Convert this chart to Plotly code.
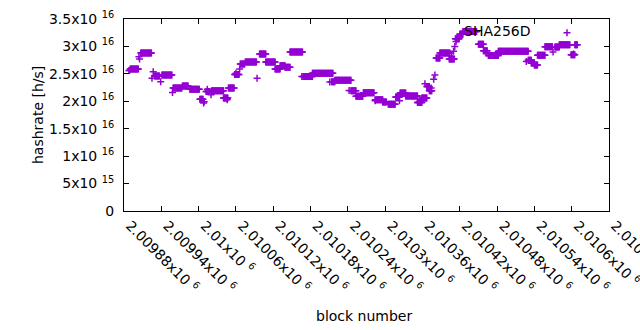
import plotly.graph_objects as go

PURPLE = "#9400D3"
FONT = "DejaVu Sans"

# Runs of consecutive blocks sharing the same estimated hashrate (x 1e16 h/s)
seg_first_block = [
    2009888, 2009890, 2009904, 2009905, 2009907, 2009925, 2009927, 2009929, 2009939, 2009941,
    2009958, 2009959, 2009974, 2009986, 2010002, 2010008, 2010009, 2010012, 2010014, 2010020,
    2010021, 2010040, 2010046, 2010048, 2010058, 2010060, 2010066, 2010067, 2010075, 2010094,
    2010098, 2010108, 2010123, 2010131, 2010139, 2010147, 2010166, 2010168, 2010183, 2010211,
    2010214, 2010219, 2010242, 2010245, 2010253, 2010265, 2010284, 2010284, 2010296, 2010305,
    2010317, 2010318, 2010323, 2010324, 2010333, 2010352, 2010355, 2010359, 2010364, 2010367,
    2010371, 2010374, 2010378, 2010380, 2010382, 2010388, 2010403, 2010407, 2010410, 2010412,
    2010414, 2010413, 2010420, 2010425, 2010450, 2010458, 2010463, 2010466, 2010482, 2010527,
    2010530, 2010535, 2010540, 2010545, 2010557, 2010570, 2010573, 2010580, 2010599, 2010603,
    2010605,
]
seg_last_block = [
    2009889, 2009903, 2009904, 2009905, 2009924, 2009925, 2009927, 2009937, 2009939, 2009957,
    2009958, 2009973, 2009983, 2010001, 2010007, 2010008, 2010009, 2010018, 2010014, 2010020,
    2010040, 2010047, 2010046, 2010057, 2010065, 2010060, 2010066, 2010074, 2010093, 2010094,
    2010108, 2010123, 2010131, 2010139, 2010147, 2010167, 2010166, 2010183, 2010216, 2010211,
    2010219, 2010245, 2010242, 2010253, 2010264, 2010282, 2010284, 2010296, 2010302, 2010316,
    2010323, 2010318, 2010323, 2010333, 2010352, 2010359, 2010355, 2010367, 2010364, 2010371,
    2010375, 2010374, 2010378, 2010380, 2010388, 2010404, 2010411, 2010407, 2010410, 2010412,
    2010414, 2010419, 2010425, 2010447, 2010458, 2010464, 2010463, 2010482, 2010530, 2010527,
    2010535, 2010540, 2010545, 2010557, 2010569, 2010570, 2010580, 2010597, 2010605, 2010603,
    2010609,
]
seg_hashrate_e16 = [
    2.56, 2.587, 2.81, 2.77, 2.88, 2.42, 2.54, 2.46, 2.355, 2.48,
    2.16, 2.24, 2.28, 2.22, 2.035, 1.97, 1.99, 2.18, 2.22, 2.12,
    2.19, 2.06, 2.03, 2.24, 2.49, 2.51, 2.59, 2.68, 2.715, 2.42,
    2.86, 2.715, 2.59, 2.65, 2.62, 2.90, 2.45, 2.45, 2.51, 2.35,
    2.355, 2.385, 2.195, 2.19, 2.09, 2.155, 2.01, 2.03, 1.985, 1.945,
    2.08, 2.075, 2.01, 2.15, 2.095, 1.98, 1.995, 2.06, 2.32, 2.27,
    2.19, 2.24, 2.40, 2.48, 2.79, 2.88, 2.77, 2.81, 2.91, 3.00,
    3.09, 3.14, 3.22, 3.27, 3.04, 2.92, 2.88, 2.835, 2.91, 2.725,
    2.75, 2.70, 2.66, 2.84, 2.995, 2.90, 2.99, 3.03, 2.85, 2.86,
    3.03,
]

x_tick_vals = [2009880, 2009940, 2010000, 2010060, 2010120, 2010180, 2010240,
               2010300, 2010360, 2010420, 2010480, 2010540, 2010600, 2010660]
x_tick_text = ["2.00988x10 <sup>6</sup>", "2.00994x10 <sup>6</sup>", "2.01x10 <sup>6</sup>",
               "2.01006x10 <sup>6</sup>", "2.01012x10 <sup>6</sup>", "2.01018x10 <sup>6</sup>",
               "2.01024x10 <sup>6</sup>", "2.0103x10 <sup>6</sup>", "2.01036x10 <sup>6</sup>",
               "2.01042x10 <sup>6</sup>", "2.01048x10 <sup>6</sup>", "2.01054x10 <sup>6</sup>",
               "2.0106x10 <sup>6</sup>", "2.01066x10 <sup>6</sup>"]
y_tick_vals = [0, 5e15, 1e16, 1.5e16, 2e16, 2.5e16, 3e16, 3.5e16]
y_tick_text = ["0", "5x10 <sup>15</sup>", "1x10 <sup>16</sup>", "1.5x10 <sup>16</sup>",
               "2x10 <sup>16</sup>", "2.5x10 <sup>16</sup>", "3x10 <sup>16</sup>",
               "3.5x10 <sup>16</sup>"]

blocks, rates = [], []
for first, last, val in zip(seg_first_block, seg_last_block, seg_hashrate_e16):
    for b in range(first, last + 1):
        blocks.append(b)
        rates.append(val * 1e16)

fig = go.Figure()
fig.add_trace(go.Scatter(
    x=blocks, y=rates, mode="markers", name="SHA256D",
    marker=dict(symbol="cross-thin", size=5, color=PURPLE,
                line=dict(width=1.5, color=PURPLE)),
))

axis_common = dict(showline=True, linecolor="black", linewidth=1, mirror="ticks",
                   ticks="inside", ticklen=5, tickcolor="black", showgrid=False,
                   zeroline=False, automargin=False,
                   tickfont=dict(family=FONT, size=14, color="black"))

fig.update_layout(
    width=640, height=330,
    margin=dict(l=124, r=31, t=19, b=119, autoexpand=False),
    plot_bgcolor="white", paper_bgcolor="white",
    showlegend=False,
    font=dict(family=FONT, size=14, color="black"),
    xaxis=dict(range=[2009880, 2010660], tickmode="array", tickvals=x_tick_vals,
               ticktext=x_tick_text, tickangle=45, ticklabelshift=6,
               ticklabeloverflow="allow", **axis_common),
    yaxis=dict(range=[0, 3.5e16], tickmode="array", tickvals=y_tick_vals,
               ticktext=y_tick_text, ticklabelstandoff=6, **axis_common),
    annotations=[
        dict(text="hashrate [h/s]", textangle=-90, xref="paper", yref="paper",
             x=0, y=0.5, xshift=-86, showarrow=False, xanchor="center", yanchor="middle",
             font=dict(family=FONT, size=14)),
        dict(text="block number", xref="paper", yref="paper", x=0.4948, y=0,
             yshift=-105, showarrow=False, xanchor="center", yanchor="middle",
             font=dict(family=FONT, size=14)),
        dict(text="SHA256D", xref="paper", yref="paper", x=0.8433, y=0.936,
             showarrow=False, xanchor="right", yanchor="middle",
             font=dict(family=FONT, size=14)),
    ],
    shapes=[
        dict(type="path", xref="paper", yref="paper", xsizemode="pixel", ysizemode="pixel",
             xanchor=0.9134, yanchor=0.9286, path="M-3.5,0H3.5M0,-3.5V3.5",
             line=dict(color=PURPLE, width=1.5)),
    ],
)

fig.write_html("out.html", config={"displayModeBar": False})

# remove the browser's default page margin so the figure sits at the top-left corner
with open("out.html", encoding="utf-8") as f:
    html = f.read()
html = html.replace("<head>", "<head><style>html,body{margin:0;padding:0;}</style>", 1)
with open("out.html", "w", encoding="utf-8") as f:
    f.write(html)
